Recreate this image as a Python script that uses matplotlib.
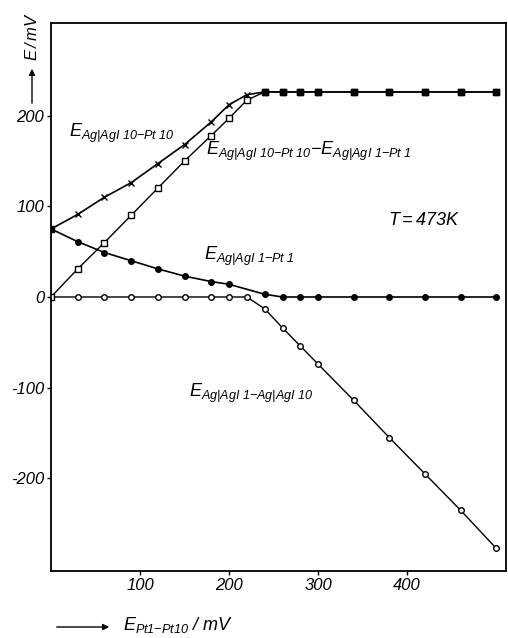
import matplotlib
matplotlib.use("Agg")
import matplotlib.pyplot as plt

plt.rcParams['font.family'] = ['Liberation Sans', 'DejaVu Sans']
plt.rcParams['mathtext.fontset'] = 'custom'
plt.rcParams['mathtext.it'] = 'Liberation Sans:italic'
plt.rcParams['mathtext.rm'] = 'Liberation Sans:italic'
plt.rcParams['mathtext.default'] = 'it'

# E_Pt1-Pt10 / mV
x_main = [0, 30, 60, 90, 120, 150, 180, 200, 220, 240, 260, 280, 300, 340, 380, 420, 460, 500]
# E_Ag|AgI10-Pt10 (crosses)
y_cross = [75, 91, 110, 126, 147, 168, 193, 212, 223, 226, 226, 226, 226, 226, 226, 226, 226, 226]
# difference (open squares)
y_square = [0, 31, 60, 90, 120, 150, 178, 197, 217, 226, 226, 226, 226, 226, 226, 226, 226, 226]
# E_Ag|AgI1-Pt1 (filled circles), no point at 220
x_fill = [0, 30, 60, 90, 120, 150, 180, 200, 240, 260, 280, 300, 340, 380, 420, 460, 500]
y_fill = [75, 61, 49, 40, 31, 23, 17, 14, 3, 0, 0, 0, 0, 0, 0, 0, 0]
# E_Ag|AgI1-Ag|AgI10 (open circles)
y_open = [0, 0, 0, 0, 0, 0, 0, 0, 0, -13, -34, -54, -74, -114, -155, -195, -235, -277]

W, H = 508, 638
fig = plt.figure(figsize=(W / 100, H / 100), dpi=100)
ax = fig.add_axes([51 / W, 1 - 571 / H, 455 / W, 548 / H])

ax.plot(x_main, y_open, color='black', lw=1.0, marker='o', ms=4,
        mfc='white', mec='black', mew=1.0)
ax.plot(x_fill, y_fill, color='black', lw=1.2, marker='o', ms=4,
        mfc='black', mec='black')
ax.plot(x_main, y_cross, color='black', lw=1.2, marker='x', ms=4, mew=1.0)
ax.plot(x_main, y_square, color='black', lw=1.0, marker='s', ms=5,
        mfc='white', mec='black', mew=1.0)
# overlapping plateau / start points look filled
ax.plot(x_main[9:], y_square[9:], ls='none', marker='s', ms=4.5, color='black')
ax.plot([x_main[0]], [y_cross[0]], ls='none', marker='s', ms=5, color='black')

ax.set_xlim(0, 511)
ax.set_ylim(-302, 302)
ax.set_xticks([100, 200, 300, 400])
ax.set_yticks([-200, -100, 0, 100, 200])
ax.set_yticklabels(['-200', '-100', '0', '100', '200'])
ax.tick_params(direction='out', length=3, width=1, labelsize=12, pad=2)
for lab in ax.get_xticklabels() + ax.get_yticklabels():
    lab.set_fontstyle('italic')
for s in ax.spines.values():
    s.set_linewidth(1.3)

fs = 13
ax.text(20, 180, r'$E_{Ag|AgI\ 10{-}Pt\ 10}$', fontsize=fs, va='center')
ax.text(174, 160, r'$E_{Ag|AgI\ 10{-}Pt\ 10}{-}E_{Ag|AgI\ 1{-}Pt\ 1}$',
        fontsize=fs, va='center')
ax.text(378, 84, r'$T = 473K$', fontsize=13, va='center')
ax.text(172, 45, r'$E_{Ag|AgI\ 1{-}Pt\ 1}$', fontsize=fs, va='center')
ax.text(155, -106, r'$E_{Ag|AgI\ 1{-}Ag|AgI\ 10}$', fontsize=fs, va='center')

# axis labels with arrows
fig.text(32 / W, 1 - 12 / H, r'$E\,/\,mV$', rotation=90, fontsize=12,
         ha='center', va='top')
fig.patches.append(matplotlib.patches.FancyArrowPatch(
    (32 / W, 1 - 106 / H), (32 / W, 1 - 66 / H), transform=fig.transFigure,
    arrowstyle='-|>', mutation_scale=9, lw=1.0, color='black'))
fig.text(123 / W, 1 - 625 / H, r'$E_{Pt1{-}Pt10}\ /\ mV$', fontsize=13,
         ha='left', va='center')
fig.patches.append(matplotlib.patches.FancyArrowPatch(
    (54 / W, 1 - 627 / H), (112 / W, 1 - 627 / H), transform=fig.transFigure,
    arrowstyle='-|>', mutation_scale=9, lw=1.0, color='black'))

fig.savefig('out.png', dpi=100)
